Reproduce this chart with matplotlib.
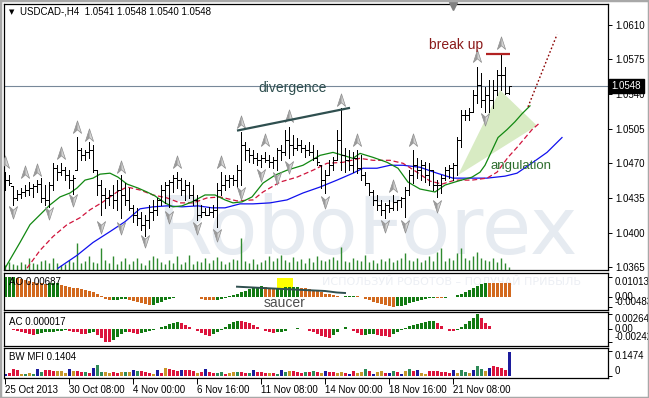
import matplotlib
matplotlib.use("Agg")
import matplotlib.pyplot as plt
import matplotlib.transforms as mtransforms
from matplotlib.path import Path
from matplotlib.patches import Polygon, Rectangle

W, H = 649, 398
FONT = "Liberation Sans"

# ---------------- data ----------------
highs = [
    1.0461, 1.0458, 1.0447, 1.0443, 1.0445, 1.0448, 1.0451, 1.0449, 1.0453, 1.0455,
    1.0448, 1.0451, 1.0470, 1.0468, 1.0470, 1.0466, 1.0463, 1.0458, 1.0497, 1.0485,
    1.0483, 1.0491, 1.0488, 1.0463, 1.0453, 1.0445, 1.0443, 1.0448, 1.0453, 1.0458,
    1.0450, 1.0445, 1.0428, 1.0425, 1.0421, 1.0418, 1.0428, 1.0433, 1.0435, 1.0448,
    1.0451, 1.0453, 1.0458, 1.0461, 1.0455, 1.0453, 1.0451, 1.0448, 1.0438, 1.0428,
    1.0425, 1.0426, 1.0428, 1.0450, 1.0461, 1.0458, 1.0458, 1.0458, 1.0468, 1.0502,
    1.0491, 1.0485, 1.0483, 1.0480, 1.0478, 1.0481, 1.0478, 1.0476, 1.0485, 1.0488,
    1.0504, 1.0507, 1.0499, 1.0496, 1.0494, 1.0488, 1.0492, 1.0488, 1.0483, 1.0468,
    1.0463, 1.0473, 1.0476, 1.0504, 1.0526, 1.0485, 1.0483, 1.0481, 1.0483, 1.0478,
    1.0461, 1.0450, 1.0443, 1.0438, 1.0433, 1.0430, 1.0433, 1.0438, 1.0433, 1.0436,
    1.0446, 1.0463, 1.0483, 1.0475, 1.0473, 1.0471, 1.0470, 1.0463, 1.0453, 1.0458,
    1.0466, 1.0468, 1.0470, 1.0497, 1.0524, 1.0524, 1.0526, 1.0544, 1.0567, 1.0561,
    1.0547, 1.0554, 1.0554, 1.0564, 1.0581, 1.0567, 1.0548]
lows = [
    1.0443, 1.0448, 1.0428, 1.0433, 1.0435, 1.0437, 1.0438, 1.0436, 1.0441, 1.0431,
    1.0428, 1.0426, 1.0443, 1.0453, 1.0458, 1.0453, 1.0445, 1.0439, 1.0463, 1.0473,
    1.0473, 1.0475, 1.0461, 1.0438, 1.0418, 1.0425, 1.0428, 1.0425, 1.0423, 1.0415,
    1.0428, 1.0423, 1.0411, 1.0408, 1.0403, 1.0397, 1.0405, 1.0413, 1.0418, 1.0428,
    1.0430, 1.0426, 1.0441, 1.0445, 1.0438, 1.0433, 1.0435, 1.0428, 1.0413, 1.0416,
    1.0418, 1.0418, 1.0416, 1.0406, 1.0438, 1.0443, 1.0446, 1.0448, 1.0446, 1.0448,
    1.0473, 1.0471, 1.0470, 1.0468, 1.0466, 1.0471, 1.0466, 1.0465, 1.0463, 1.0473,
    1.0478, 1.0475, 1.0478, 1.0483, 1.0481, 1.0476, 1.0478, 1.0473, 1.0468, 1.0445,
    1.0440, 1.0458, 1.0463, 1.0473, 1.0463, 1.0461, 1.0463, 1.0461, 1.0460, 1.0453,
    1.0448, 1.0438, 1.0428, 1.0423, 1.0418, 1.0415, 1.0421, 1.0423, 1.0423, 1.0426,
    1.0416, 1.0438, 1.0450, 1.0455, 1.0453, 1.0451, 1.0448, 1.0443, 1.0436, 1.0440,
    1.0453, 1.0455, 1.0453, 1.0458, 1.0486, 1.0514, 1.0514, 1.0522, 1.0531, 1.0527,
    1.0522, 1.0522, 1.0526, 1.0539, 1.0544, 1.0540, 1.0540]
closes = [
    1.0453, 1.0450, 1.0435, 1.0439, 1.0441, 1.0443, 1.0445, 1.0447, 1.0449, 1.0435,
    1.0433, 1.0448, 1.0465, 1.0461, 1.0463, 1.0458, 1.0453, 1.0455, 1.0483, 1.0478,
    1.0481, 1.0483, 1.0463, 1.0448, 1.0438, 1.0435, 1.0438, 1.0433, 1.0443, 1.0438,
    1.0433, 1.0425, 1.0418, 1.0415, 1.0408, 1.0413, 1.0421, 1.0423, 1.0433, 1.0443,
    1.0448, 1.0451, 1.0455, 1.0453, 1.0443, 1.0448, 1.0438, 1.0433, 1.0418, 1.0421,
    1.0418, 1.0421, 1.0423, 1.0443, 1.0448, 1.0453, 1.0455, 1.0453, 1.0463, 1.0488,
    1.0483, 1.0478, 1.0475, 1.0473, 1.0475, 1.0473, 1.0471, 1.0473, 1.0483, 1.0481,
    1.0494, 1.0488, 1.0485, 1.0488, 1.0485, 1.0483, 1.0481, 1.0475, 1.0471, 1.0453,
    1.0458, 1.0468, 1.0473, 1.0494, 1.0478, 1.0473, 1.0468, 1.0475, 1.0465, 1.0458,
    1.0450, 1.0441, 1.0433, 1.0428, 1.0423, 1.0428, 1.0425, 1.0431, 1.0433, 1.0435,
    1.0443, 1.0458, 1.0468, 1.0463, 1.0468, 1.0458, 1.0463, 1.0448, 1.0448, 1.0455,
    1.0463, 1.0465, 1.0468, 1.0494, 1.0519, 1.0519, 1.0522, 1.0539, 1.0549, 1.0534,
    1.0539, 1.0534, 1.0544, 1.0559, 1.0559, 1.0541, 1.0548]
first_open = 1.0455

tick_volume = [
    5, 8, 6, 5, 8, 6, 12, 7, 6, 9,
    10, 7, 12, 7, 5, 6, 10, 8, 27, 7,
    9, 14, 8, 7, 22, 10, 7, 14, 6, 9,
    12, 6, 9, 12, 7, 5, 10, 14, 12, 8,
    6, 10, 7, 14, 6, 8, 15, 6, 9, 8,
    12, 7, 10, 13, 9, 6, 8, 11, 10, 32,
    9, 7, 11, 6, 8, 10, 14, 9, 12, 15,
    10, 8, 13, 9, 11, 7, 12, 8, 14, 10,
    9, 11, 13, 10, 23, 9, 8, 12, 10, 9,
    15, 8, 10, 7, 11, 9, 12, 8, 10, 12,
    17, 10, 9, 12, 8, 10, 14, 9, 18, 22,
    9, 12, 10, 17, 22, 12, 10, 14, 18, 12,
    10, 9, 12, 8, 12, 7, 3]

frac_up_bar = [0, 5, 8, 14, 18, 21, 29, 43, 54, 59, 65, 71, 84, 88, 97, 102, 118, 124]
frac_up_price = [1.0471, 1.0461, 1.0463, 1.0480, 1.0507, 1.0499, 1.0466, 1.0471, 1.0471,
                 1.0512, 1.0494, 1.0518, 1.0534, 1.0494, 1.0447, 1.0494, 1.0578, 1.0591]
frac_dn_bar = [2, 11, 17, 24, 29, 35, 41, 48, 53, 59, 64, 68, 71, 80, 95, 100, 108, 120]
frac_dn_price = [1.0421, 1.0420, 1.0433, 1.0406, 1.0405, 1.0391, 1.0416, 1.0405, 1.0398,
                 1.0440, 1.0458, 1.0455, 1.0466, 1.0431, 1.0407, 1.0407, 1.0427, 1.0515]

# Alligator lines (lips green, teeth red, jaw blue)
lips_x = [0, 3.75, 6.25, 8.75, 11.25, 13.75, 16.25, 18, 20, 22, 23.75, 26.25, 28.25, 30.5,
          33.25, 35.5, 37.5, 40, 42, 44.25, 46.75, 50, 52.5, 55, 57, 59.25, 61.75, 64.5,
          67.5, 70.5, 74.5, 78.75, 82, 84.5, 87, 88.75, 92, 95.5, 98.25, 100.75, 103.75,
          107.5, 110, 113.25, 116.75, 118.75, 120, 121.75, 123.25, 125.5, 127.5, 129.25, 131.25]
lips_y = [1.0364, 1.0390, 1.0408, 1.0418, 1.0428, 1.0436, 1.0440, 1.0445, 1.0453, 1.0455,
          1.0459, 1.0460, 1.0456, 1.0449, 1.0445, 1.0441, 1.0437, 1.0430, 1.0426, 1.0427,
          1.0431, 1.0438, 1.0438, 1.0433, 1.0430, 1.0431, 1.0436, 1.0450, 1.0458, 1.0463,
          1.0468, 1.0478, 1.0481, 1.0478, 1.0475, 1.0480, 1.0476, 1.0471, 1.0465, 1.0451,
          1.0444, 1.0441, 1.0448, 1.0452, 1.0456, 1.0461, 1.0468, 1.0483, 1.0496, 1.0504,
          1.0512, 1.0520, 1.0528]
teeth_x = [5.5, 8.75, 12, 15.5, 18.75, 21.25, 24.5, 28, 30.5, 33.75, 37, 40.5, 43.75, 47,
           50.5, 53.75, 58, 62, 64.5, 68.75, 73, 77, 80.5, 84.5, 88.75, 92, 96.25, 99.5,
           103, 106.25, 109.25, 112.5, 116.75, 120.5, 123, 125.75, 128, 131.75, 133.75]
teeth_y = [1.0364, 1.0382, 1.0396, 1.0408, 1.0415, 1.0423, 1.0431, 1.0441, 1.0446, 1.0443,
           1.0438, 1.0435, 1.0430, 1.0430, 1.0435, 1.0436, 1.0432, 1.0433, 1.0441, 1.0451,
           1.0456, 1.0463, 1.0470, 1.0471, 1.0475, 1.0473, 1.0473, 1.0470, 1.0461, 1.0452,
           1.0449, 1.0453, 1.0453, 1.0455, 1.0461, 1.0476, 1.0486, 1.0504, 1.0511]
jaw_x = [13.25, 18, 22, 26.25, 30, 33.75, 37, 40.5, 44.25, 48.25, 51.75, 55, 58.75, 62,
         66.25, 70.5, 74.5, 78.75, 83, 87, 89.5, 93, 96.25, 99.5, 103.75, 108, 112, 116.25,
         120.5, 125, 128, 132, 135.5, 139.25]
jaw_y = [1.0364, 1.0377, 1.0390, 1.0401, 1.0411, 1.0424, 1.0426, 1.0427, 1.0426, 1.0427,
         1.0425, 1.0425, 1.0429, 1.0429, 1.0430, 1.0433, 1.0440, 1.0446, 1.0453, 1.0460,
         1.0465, 1.0465, 1.0468, 1.0468, 1.0466, 1.0460, 1.0455, 1.0455, 1.0455, 1.0457,
         1.0460, 1.0471, 1.0481, 1.0496]

# Awesome Oscillator, in units of 0.001
ao_milli = [
    9.88, 10.03, 10.13, 9.62, 9.12, 8.61, 8.10, 7.60, 7.09, 6.84,
    6.58, 6.84, 7.09, 7.34, 6.08, 5.57, 5.07, 4.56, 4.31, 4.05,
    3.55, 3.04, 2.53, 1.52, 0.51, -0.76, -1.52, -1.42, -1.32, -1.22,
    -1.11, -1.52, -2.03, -2.53, -3.04, -3.55, -4.05, -3.80, -3.29, -2.53,
    -1.77, -1.11, -0.61, -0.25, -0.10, 0.10, 0.20, 0.25, -0.25, -0.76,
    -1.27, -1.62, -1.77, -1.42, -0.91, -0.30, 0.30, 0.91, 1.52, 2.28,
    3.04, 3.80, 4.46, 4.96, 5.32, 5.07, 4.81, 4.56, 4.66, 4.81,
    4.91, 5.01, 5.12, 5.17, 4.81, 4.31, 3.80, 3.29, 2.79, 2.28,
    1.77, 1.27, 0.81, 0.46, 0.20, 0.30, 0.51, 0.61, 0.30, -0.20,
    -0.76, -1.52, -2.28, -3.04, -3.65, -4.20, -4.61, -4.83, -4.71, -4.36,
    -3.85, -3.24, -2.63, -2.03, -1.47, -1.01, -0.71, -0.51, -0.61, -0.71,
    -0.51, -0.25, 0.15, 0.76, 1.52, 2.53, 3.55, 4.56, 5.57, 6.48,
    7.19, 7.14, 7.09, 7.04, 6.99, 6.94, 6.87]

# Accelerator Oscillator, in units of 0.001
ac_milli = [
    0.055, -0.055, -0.109, -0.274, -0.547, -0.730, -0.912, -1.003, -0.821, -0.730,
    -0.638, -0.547, -0.456, -0.365, -0.274, -0.182, -0.274, -0.456, -0.638, -0.821,
    -0.912, -0.730, -0.547, -1.094, -1.642, -2.280, -2.420, -2.006, -1.459, -0.912,
    -0.547, -0.638, -0.730, -0.821, -0.730, -0.547, -0.365, -0.182, 0.091, 0.365,
    0.638, 0.912, 1.094, 1.186, 1.003, 0.730, 0.365, -0.018, -0.365, -0.730,
    -1.003, -1.186, -0.912, -0.547, -0.182, 0.365, 0.821, 1.277, 1.550, 1.459,
    1.277, 1.003, 0.730, 0.365, 0.091, -0.274, -0.547, -0.730, -0.638, -0.456,
    -0.274, -0.091, 0.055, 0.109, 0.036, -0.091, -0.365, -0.638, -0.912, -1.186,
    -1.459, -1.642, -1.094, -0.547, -0.091, 0.365, 0.091, -0.365, -0.730, -1.094,
    -1.003, -0.912, -0.821, -1.003, -1.186, -1.277, -1.368, -0.912, -0.547, -0.182,
    0.182, 0.456, 0.730, 0.912, 1.094, 1.277, 1.368, 1.459, 1.094, 0.547,
    -0.091, -0.274, -0.365, -0.182, 0.365, 0.912, 1.459, 2.006, 2.645, 2.006,
    1.094, 0.547, 0.091, -0.091, -0.055, -0.073, 0.017]

# Market Facilitation Index and its zone (g green, f fade, b fake, s squat)
bw_mfi = [
    0.0118, 0.0177, 0.0413, 0.0354, 0.0118, 0.0118, 0.0177, 0.0118, 0.0413, 0.0236,
    0.0354, 0.0354, 0.0295, 0.0295, 0.0295, 0.0177, 0.0413, 0.0295, 0.0295, 0.0236,
    0.0236, 0.0177, 0.0472, 0.0649, 0.0236, 0.0236, 0.0177, 0.0236, 0.0177, 0.0236,
    0.0236, 0.0236, 0.0354, 0.0295, 0.0295, 0.0236, 0.0177, 0.0118, 0.0354, 0.0177,
    0.0472, 0.0413, 0.0354, 0.0295, 0.0354, 0.0354, 0.0354, 0.0295, 0.0177, 0.0236,
    0.0413, 0.0236, 0.0177, 0.0177, 0.0236, 0.0118, 0.0177, 0.0236, 0.0236, 0.0236,
    0.0177, 0.0177, 0.0354, 0.0236, 0.0236, 0.0177, 0.0177, 0.0177, 0.0118, 0.0354,
    0.0236, 0.0295, 0.0295, 0.0236, 0.0177, 0.0236, 0.0236, 0.0295, 0.0236, 0.0177,
    0.0295, 0.0236, 0.0236, 0.0177, 0.0236, 0.0177, 0.0118, 0.0295, 0.0177, 0.0236,
    0.0413, 0.0295, 0.0118, 0.0236, 0.0295, 0.0177, 0.0177, 0.0295, 0.0236, 0.0118,
    0.0295, 0.0413, 0.0295, 0.0354, 0.0177, 0.0118, 0.0295, 0.0295, 0.0295, 0.0236,
    0.0236, 0.0177, 0.0354, 0.0177, 0.0354, 0.0236, 0.0177, 0.0354, 0.0590, 0.0413,
    0.0295, 0.0472, 0.0590, 0.0531, 0.0472, 0.0354, 0.1404]
mfi_zone = ("bsssfgfgbg" "sssfffbfss" "gsbggffssf" "gfbgsssfbs" "fsssbsssfs"
            "bssggsffgs" "sgbsssfsgb" "gfsssgsgsf" "bssffsbsff" "gsbffsbgsb"
            "fgsbffssss" "ssbfggfbgg" "fbssssb")

date_ticks = [0, 16, 32, 48, 64, 80, 96, 112]
date_labels = ["25 Oct 2013", "30 Oct 08:00", "4 Nov 00:00", "6 Nov 16:00",
               "11 Nov 08:00", "14 Nov 00:00", "18 Nov 16:00", "21 Nov 08:00"]
price_ticks = [1.0365, 1.0400, 1.0435, 1.0470, 1.0505, 1.0540, 1.0575, 1.0610]
last_price = 1.0548

# hand-drawn analysis objects
div_line_x, div_line_y = [58, 86.25], [1.0503, 1.0526]
break_line_x, break_line_y = [120.25, 126.25], [1.0580, 1.0580]
proj_x, proj_y = [130.75, 138], [1.0527, 1.0600]
wedge_x, wedge_y = [113.25, 123.75, 133], [1.0458, 1.0544, 1.0508]
saucer_line_x = [58, 69.5, 80, 83, 85]
saucer_line_y = [5.22, 4.05, 3.04, 2.28, 2.03]   # x 0.001
saucer_box_x, saucer_box_y = [68, 72], [3.55, 9.62]

# ---------------- figure ----------------
fig = plt.figure(figsize=(W / 100, H / 100), dpi=100)
fig.patch.set_facecolor("white")


def rect(l, t, r, b):
    return [l / W, 1 - b / H, (r - l) / W, (b - t) / H]


XL = (-0.25, 150.75)
n = len(highs)
xs = list(range(n))
LW = 0.72  # one pixel

ax_vol = fig.add_axes(rect(4, 4, 608, 270))
ax = fig.add_axes(rect(4, 4, 608, 270))
ax_ao = fig.add_axes(rect(4, 273, 608, 310))
ax_ac = fig.add_axes(rect(4, 312, 608, 346))
ax_mfi = fig.add_axes(rect(4, 348, 608, 378))

for a in (ax_vol, ax, ax_ao, ax_ac, ax_mfi):
    a.set_xlim(*XL)
    for s in a.spines.values():
        s.set_color("black")
        s.set_linewidth(0.9)
    a.tick_params(axis="x", bottom=False, labelbottom=False)
    a.yaxis.tick_right()
    a.tick_params(axis="y", length=3, width=0.7, pad=2, labelsize=7, colors="black")

ax_vol.set_zorder(0)
ax.set_zorder(1)
ax.patch.set_alpha(0)
ax_vol.set_ylim(0, 266)
ax_vol.axis("off")

# watermark
ax_vol.text(0.60, 0.145, "RoboForex", transform=ax_vol.transAxes, ha="center",
            va="center", fontsize=58, color="#e6ebf1", family="DejaVu Sans", zorder=0)
ax_vol.vlines(xs, 0, tick_volume, color="#2f8a2f", lw=1.0, zorder=2)

# main price panel
ax.set_ylim(1.03622, 1.06309)
ax.set_yticks(price_ticks)
ax.set_yticklabels([f"{p:.4f}" for p in price_ticks], family=FONT)

ax.add_patch(Polygon(list(zip(wedge_x, wedge_y)), closed=True, facecolor="#d8ebc3",
                     edgecolor="none", zorder=1))
ax.axhline(last_price, color="#778899", lw=0.8, zorder=1.5)

ax.plot(jaw_x, jaw_y, color="#1010ee", lw=0.9, zorder=2)
ax.plot(teeth_x, teeth_y, color="#d0143c", lw=0.9, dashes=(4, 2.2), zorder=2)
ax.plot(lips_x, lips_y, color="#118811", lw=0.9, zorder=2)

opens = [first_open] + closes[:-1]
opens = [min(max(o, lo), hi) for o, lo, hi in zip(opens, lows, highs)]
ax.vlines(xs, lows, highs, color="black", lw=LW, zorder=3, antialiased=False)
ax.hlines(opens, [x - 0.4 for x in xs], xs, color="black", lw=LW, zorder=3, antialiased=False)
ax.hlines(closes, xs, [x + 0.4 for x in xs], color="black", lw=LW, zorder=3, antialiased=False)

# fractal arrows
up_full = Path([(0, 1), (0.62, -0.9), (0, -0.35), (-0.62, -0.9), (0, 1)],
               [Path.MOVETO, Path.LINETO, Path.LINETO, Path.LINETO, Path.CLOSEPOLY])
up_half = Path([(0, 1), (0, -0.35), (-0.62, -0.9), (0, 1)],
               [Path.MOVETO, Path.LINETO, Path.LINETO, Path.CLOSEPOLY])
dn_full = Path([(x, -y) for x, y in up_full.vertices], up_full.codes)
dn_half = Path([(x, -y) for x, y in up_half.vertices], up_half.codes)
for bars, prices, full, half in ((frac_up_bar, frac_up_price, up_full, up_half),
                                 (frac_dn_bar, frac_dn_price, dn_full, dn_half)):
    ax.plot(bars, prices, ls="none", marker=full, ms=9.5, mfc="#d4d4d4", mec="#8c8c8c",
            mew=0.5, zorder=4)
    ax.plot(bars, prices, ls="none", marker=half, ms=9.5, mfc="#9a9a9a", mec="none", zorder=4)

# analysis drawings
ax.plot(div_line_x, div_line_y, color="#2f4f4f", lw=1.6, zorder=5, solid_capstyle="butt")
ax.plot(break_line_x, break_line_y, color="#b22222", lw=1.6, zorder=5, solid_capstyle="butt")
ax.plot(proj_x, proj_y, color="#8b0000", lw=1.0, dashes=(1.2, 1.6), zorder=5)
ax.text(72, 1.0546, "divergence", family=FONT, fontsize=10, color="#2f4f4f",
        ha="center", va="center", zorder=6)
ax.text(112.75, 1.05895, "break up", family=FONT, fontsize=10, color="#8b1a1a",
        ha="center", va="center", zorder=6)
ax.text(129, 1.04668, "angulation", family=FONT, fontsize=9.5, color="#2e6e2e",
        ha="center", va="center", zorder=6)
ax.plot([112], [1.0629], marker="v", ms=6, color="#808080", clip_on=False, zorder=6)

# current price box
bt = mtransforms.blended_transform_factory(ax.transAxes, ax.transData)
ax.text(1.006, last_price, f"{last_price:.4f}", transform=bt, ha="left", va="center",
        fontsize=7, family=FONT, color="white", zorder=10,
        bbox=dict(boxstyle="square,pad=0.25", facecolor="black", edgecolor="black"))

fig.text(12 / W, 1 - 12 / H, "\u25bc", fontsize=5, ha="center", va="center", color="black")
fig.text(20 / W, 1 - 12 / H, "USDCAD-,H4  1.0541 1.0548 1.0540 1.0548", family=FONT,
         fontsize=7, ha="left", va="center")

# AO panel
ao = [v / 1000 for v in ao_milli]
ao_col = ["#127a12" if i == 0 or ao[i] > ao[i - 1] else "#d2691e" for i in range(n)]
ax_ao.set_ylim(-0.0065845, 0.012156)
ax_ao.add_patch(Rectangle((saucer_box_x[0], saucer_box_y[0] / 1000),
                          saucer_box_x[1] - saucer_box_x[0],
                          (saucer_box_y[1] - saucer_box_y[0]) / 1000,
                          facecolor="#ffff00", edgecolor="none", zorder=0.5))
ax_ao.text(111.5, 0.0076, "ИСПОЛЬЗУЙ РОБОТОВ – ПОЛУЧАЙ ПРИБЫЛЬ", family="DejaVu Sans",
           fontsize=8, color="#eceff4", ha="center", va="center", zorder=0.4)
ax_ao.bar(xs, ao, width=0.75, color=ao_col, linewidth=0, zorder=1)
ax_ao.plot(saucer_line_x, [v / 1000 for v in saucer_line_y], color="#2f4f4f", lw=1.4, zorder=3)
ax_ao.text(70, -0.00279, "saucer", family=FONT, fontsize=10, color="#4d4d4d",
           ha="center", va="center", zorder=4)
ax_ao.set_yticks([0.01013, 0.0, -0.00483])
ax_ao.set_yticklabels(["0.01013", "0.00", "-0.00483"], family=FONT)
for lab, v in zip(ax_ao.get_yticklabels(), ("top", "center", "bottom")):
    lab.set_va(v)

# AC panel
ac = [v / 1000 for v in ac_milli]
ac_col = ["#127a12" if i == 0 or ac[i] > ac[i - 1] else "#dc143c" for i in range(n)]
ax_ac.set_ylim(-0.0031, 0.0031)
ax_ac.bar(xs, ac, width=0.75, color=ac_col, linewidth=0)
ax_ac.set_yticks([0.002645, 0.0, -0.00242])
ax_ac.set_yticklabels(["0.002645", "0.00", "-0.00242"], family=FONT)
for lab, v in zip(ax_ac.get_yticklabels(), ("top", "center", "bottom")):
    lab.set_va(v)

# BW MFI panel
zone_colors = {"g": "#2e8b57", "f": "#c8962a", "b": "#1c1c9c", "s": "#dc143c"}
ax_mfi.set_ylim(-0.0118, 0.1652)
ax_mfi.bar(xs, bw_mfi, width=0.75, color=[zone_colors[z] for z in mfi_zone], linewidth=0)
ax_mfi.set_yticks([0.1474, 0.0])
ax_mfi.set_yticklabels(["0.1474", "0"], family=FONT)
for lab, v in zip(ax_mfi.get_yticklabels(), ("top", "bottom")):
    lab.set_va(v)

ax_mfi.tick_params(axis="x", bottom=True, labelbottom=True, length=4, width=0.7,
                   direction="out", pad=1, labelsize=7)
ax_mfi.set_xticks(date_ticks)
ax_mfi.set_xticklabels(date_labels, family=FONT, ha="left")

for txt, y in (("AO 0.00687", 282), ("AC 0.000017", 322), ("BW MFI 0.1404", 357)):
    fig.text(9 / W, 1 - y / H, txt, family=FONT, fontsize=7, ha="left", va="center")

fig.patches.append(Rectangle((0, 0), 1, 1, transform=fig.transFigure, fill=False,
                             edgecolor="#a8a8a8", lw=2.5))

fig.savefig("out.png", dpi=100, facecolor="white")
